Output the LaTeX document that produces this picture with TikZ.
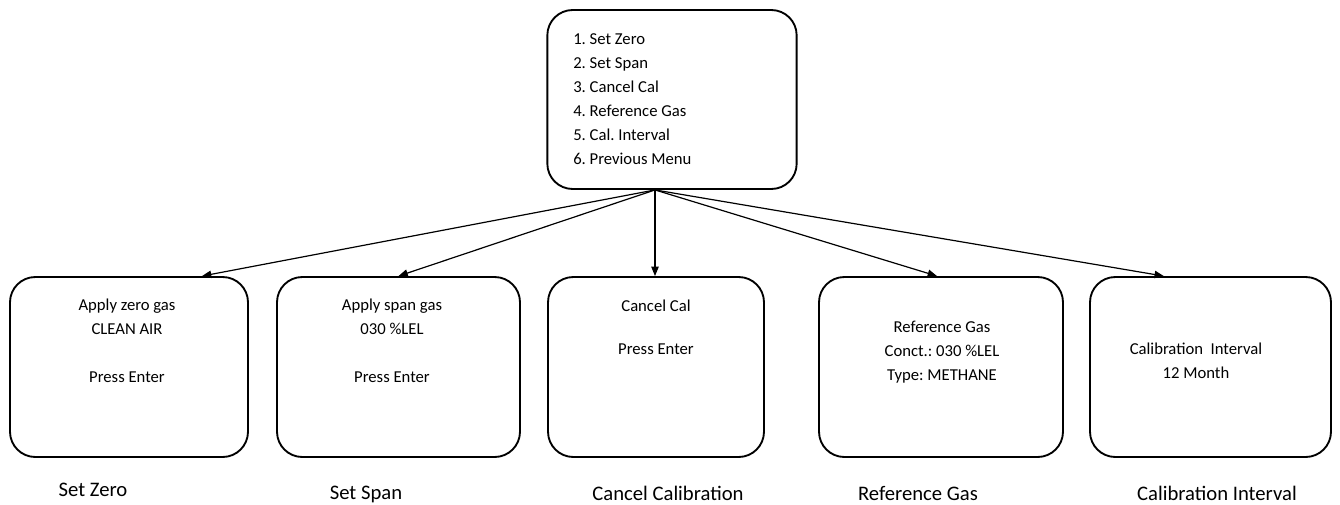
\documentclass[tikz,border=0pt]{standalone}
\usepackage{fontspec}
\setmainfont{Carlito}
\usetikzlibrary{positioning,arrows.meta,calc}
\frenchspacing

\begin{document}
\begin{tikzpicture}[
    x=0.75pt, y=-0.75pt,
    box/.style={draw, line width=1.4pt, rounded corners=19pt, minimum height=135pt},
    txt/.style={align=center, inner sep=0pt, font=\fontsize{12.5}{18}\selectfont},
    lbl/.style={inner sep=0pt, font=\fontsize{15.5}{18}\selectfont},
    arrow/.style={-{Triangle[length=7pt,width=5.5pt]}, line width=0.9pt},
  ]
    \useasboundingbox (0,0) rectangle (1340,504);

    % menu
    \node[box, minimum width=187pt, minimum height=134.25pt] (menu) at (672,99.5) {};
    \node[txt, align=left, anchor=north west] (menutxt) at (573,33)
      {1. Set Zero\\2. Set Span\\3. Cancel Cal\\4. Reference Gas\\5. Cal. Interval\\6. Previous Menu};

    % screens
    \node[box, minimum width=178.5pt] (zero) at (129,367) {};
    \node[box, minimum width=182.25pt] (span) at (398.5,367) {};
    \node[box, minimum width=162pt] (cancel) at (656,367) {};
    \node[box, minimum width=183pt] (refgas) at (941,367) {};
    \node[box, minimum width=180.75pt] (interval) at (1210.5,367) {};

    \node[txt] (zerotxt) at (127,341) {Apply zero gas\\CLEAN AIR\\[18pt]Press Enter};
    \node[txt] (spantxt) at (392,341) {Apply span gas\\030 \%LEL\\[18pt]Press Enter};
    \node[txt] (canceltxt) at (656,327.5) {Cancel Cal\\[14pt]Press Enter};
    \node[txt] (refgastxt) at (942,352) {Reference Gas\\Conct.: 030 \%LEL\\Type: METHANE};
    \node[txt] (intervaltxt) at (1196,361) {Calibration\ \ Interval\\12 Month};

    % captions
    \node[lbl] (zerolbl) at (93,490) {Set Zero};
    \node[lbl] (spanlbl) at (366,494) {Set Span};
    \node[lbl] (cancellbl) at (668,493) {Cancel Calibration};
    \node[lbl] (refgaslbl) at (918,493) {Reference Gas};
    \node[lbl] (intervallbl) at (1217,493) {Calibration Interval};

    \coordinate (fork) at ([xshift=-12.75pt]menu.south);
    \draw[arrow] (fork) -- ([xshift=54.75pt]zero.north);
    \draw[arrow] (fork) -- (span.north);
    \draw[arrow] (fork) -- (cancel.north -| fork);
    \draw[arrow] (fork) -- ([xshift=-3pt]refgas.north);
    \draw[arrow] (fork) -- ([xshift=-35pt]interval.north);
  \end{tikzpicture}
\end{document}
